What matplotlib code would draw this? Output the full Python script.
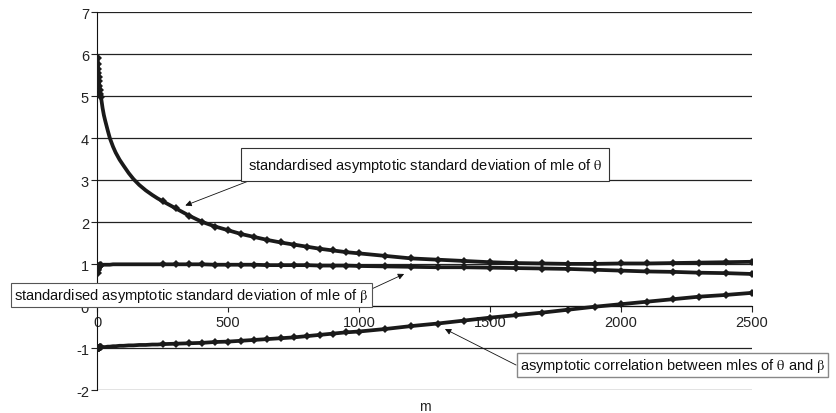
import matplotlib
matplotlib.use('Agg')
import matplotlib.pyplot as plt

# -----------------------------------------------------------------------
# data
# -----------------------------------------------------------------------
m_vals = [1, 2, 3, 4, 5, 6, 8, 10, 12, 14, 17, 20, 25, 30, 40, 48, 60, 70, 85, 100,
          120, 138, 160, 185, 210, 230,
          250, 300, 350, 400, 450, 500, 550, 600, 650, 700, 750, 800, 850, 900, 950, 1000,
          1100, 1200, 1300, 1400, 1500, 1600, 1700, 1800, 1900, 2000, 2100, 2200, 2300, 2400, 2500]

sd_theta = [5.92, 5.78, 5.66, 5.55, 5.45, 5.37, 5.24, 5.14, 5.06, 4.98, 4.85, 4.72, 4.55, 4.42,
            4.18, 4.00, 3.80, 3.66, 3.49, 3.35, 3.17, 3.03, 2.89, 2.76, 2.65, 2.57,
            2.50, 2.33, 2.16, 2.01, 1.90, 1.81, 1.72, 1.65, 1.58, 1.52, 1.47, 1.42, 1.37, 1.33,
            1.29, 1.26,
            1.20, 1.14, 1.11, 1.08, 1.05, 1.03, 1.02, 1.01, 1.01, 1.02, 1.02, 1.03, 1.04, 1.05, 1.06]

sd_beta = [0.80, 0.86, 0.90, 0.92, 0.94, 0.95, 0.96, 0.97, 0.975, 0.98, 0.98, 0.985, 0.99, 0.99,
           0.99, 0.99, 1.00, 1.00, 1.00, 1.00, 1.00, 1.00, 1.00, 1.00, 1.00, 1.00,
           1.00, 1.00, 1.00, 1.00, 0.99, 0.99, 0.99, 0.99, 0.98, 0.98, 0.98, 0.98, 0.97, 0.97,
           0.97, 0.96,
           0.95, 0.94, 0.93, 0.93, 0.92, 0.91, 0.90, 0.89, 0.87, 0.85, 0.83, 0.82, 0.80, 0.79, 0.77]

corr = [-1.00, -1.00, -0.99, -0.99, -0.99, -0.99, -0.99, -0.98, -0.98, -0.98, -0.98, -0.97,
        -0.97, -0.97, -0.96, -0.96, -0.95, -0.95, -0.94, -0.94, -0.93, -0.93, -0.92, -0.92,
        -0.91, -0.91,
        -0.90, -0.89, -0.88, -0.87, -0.85, -0.84, -0.82, -0.80, -0.78, -0.76, -0.74, -0.71,
        -0.68, -0.65, -0.62, -0.60,
        -0.54, -0.47, -0.41, -0.34, -0.27, -0.21, -0.15, -0.08, -0.01, 0.05, 0.11, 0.17, 0.23,
        0.27, 0.32]

x_ticks = [0, 500, 1000, 1500, 2000, 2500]
y_ticks = [-2, -1, 0, 1, 2, 3, 4, 5, 6, 7]

label_theta = r'standardised asymptotic standard deviation of mle of $\mathrm{\theta}$'
label_beta = r'standardised asymptotic standard deviation of mle of $\mathrm{\beta}$'
label_corr = r'asymptotic correlation between mles of $\mathrm{\theta}$ and $\mathrm{\beta}$'

LINE_COLOR = '#1a1a1a'
GRID_COLOR = '#222222'
TEXT_COLOR = '#222222'
FONT_SIZE = 10.5

# markers sit in the dense start and on the regular grid; between them the
# original's points merge into a plain thick line
show_marker = [m <= 14 or m >= 250 for m in m_vals]

# -----------------------------------------------------------------------
# figure
# -----------------------------------------------------------------------
plt.rcParams['font.family'] = ['Liberation Sans', 'DejaVu Sans']
plt.rcParams['mathtext.fontset'] = 'stix'
plt.rcParams['axes.unicode_minus'] = False  # plain hyphen like the original

fig = plt.figure(figsize=(8.37, 4.14), dpi=100)
ax = fig.add_axes([0.1163, 0.0548, 0.7818, 0.9131])

for series in (sd_theta, sd_beta, corr):
    ax.plot(m_vals, series, color=LINE_COLOR, linewidth=2.7, marker='D',
            markersize=3.6, markeredgewidth=0, markerfacecolor=LINE_COLOR,
            markevery=show_marker, solid_joinstyle='round', zorder=3)

ax.set_xlim(0, 2500)
ax.set_ylim(-2, 7)
ax.set_xticks(x_ticks)
ax.set_yticks(y_ticks)
ax.tick_params(labelsize=FONT_SIZE, colors=TEXT_COLOR, length=4, width=0.8, pad=2)

ax.grid(axis='y', color=GRID_COLOR, linewidth=0.9)
ax.grid(axis='x', visible=False)
ax.set_axisbelow(True)

for side in ('top', 'right'):
    ax.spines[side].set_visible(False)
ax.spines['bottom'].set_position(('data', 0))
ax.spines['left'].set_color('#111111')
ax.spines['bottom'].set_color('#111111')

ax.text(0.5, -0.042, 'm', transform=ax.transAxes, ha='center', va='center',
        fontsize=FONT_SIZE - 0.5, color=TEXT_COLOR)

# -----------------------------------------------------------------------
# callouts
# -----------------------------------------------------------------------
arrow = dict(arrowstyle='-|>', color='#111111', lw=0.6, mutation_scale=9,
             shrinkA=0, shrinkB=0)

ax.annotate(label_theta, xy=(336, 2.40), xytext=(575, 3.37),
            ha='left', va='center', fontsize=FONT_SIZE, color='#111111',
            bbox=dict(boxstyle='square,pad=0.5', fc='white', ec='#333333', lw=0.8),
            arrowprops=dict(arrow, relpos=(0.055, 0.0)), annotation_clip=False, zorder=5)

ax.annotate(label_beta, xy=(1172, 0.77), xytext=(-318, 0.27),
            ha='left', va='center', fontsize=FONT_SIZE, color='#111111',
            bbox=dict(boxstyle='square,pad=0.22', fc='white', ec='#555555', lw=0.8),
            arrowprops=dict(arrow, relpos=(1.0, 0.75)), annotation_clip=False, zorder=5)

ax.annotate(label_corr, xy=(1328, -0.54), xytext=(1614, -1.40),
            ha='left', va='center', fontsize=FONT_SIZE, color='#111111',
            bbox=dict(boxstyle='square,pad=0.22', fc='white', ec='#888888', lw=1.0),
            arrowprops=dict(arrow, relpos=(0.0, 0.4)), annotation_clip=False, zorder=5)

fig.savefig('out.png', dpi=100)
